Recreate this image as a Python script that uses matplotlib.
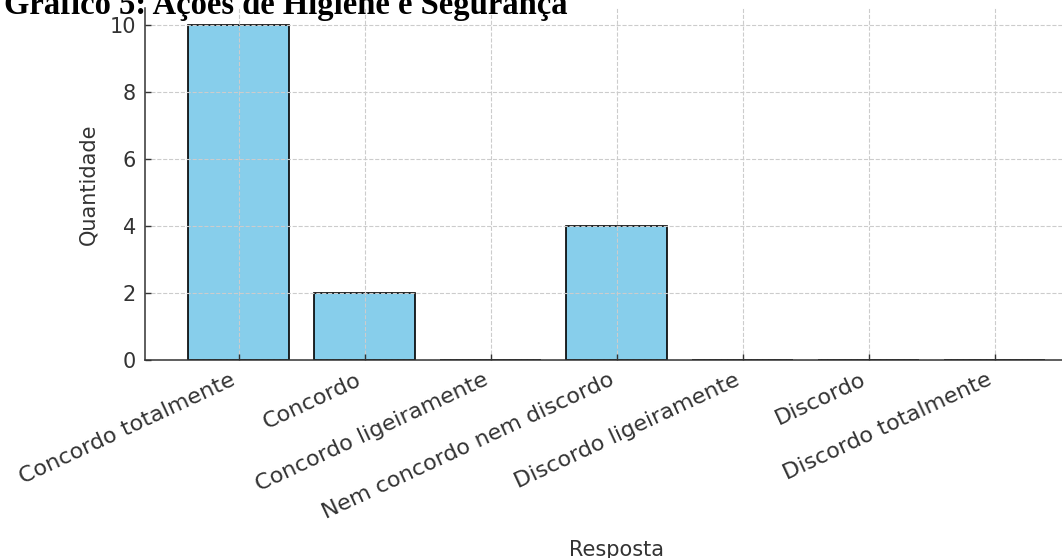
import matplotlib
matplotlib.use("Agg")
import matplotlib.pyplot as plt

# data
categories = ['Concordo totalmente', 'Concordo', 'Concordo ligeiramente',
              'Nem concordo nem discordo', 'Discordo ligeiramente',
              'Discordo', 'Discordo totalmente']
values = [10, 2, 0, 4, 0, 0, 0]

title = 'Gráfico 5: Ações de Higiene e Segurança'
xlabel = 'Resposta'
ylabel = 'Quantidade'

text_color = '#333333'

fig = plt.figure(figsize=(10.62, 5.58), dpi=100)
# axes runs past the right edge, the reference is cropped there
ax = fig.add_axes([0.137, 0.3548, 0.8875, 0.6308])

ax.bar(categories, values, color='skyblue', edgecolor='black', linewidth=1.2)

ax.grid(True, linestyle='--', color='#cccccc', linewidth=0.8)
ax.spines['top'].set_visible(False)
ax.spines['right'].set_visible(False)
for s in ['left', 'bottom']:
    ax.spines[s].set_color('#333333')
    ax.spines[s].set_linewidth(1.1)

ax.tick_params(axis='both', direction='in', length=4, width=1,
               colors=text_color, labelsize=15, pad=7)
ax.tick_params(axis='x', labelsize=16)
plt.setp(ax.get_xticklabels(), rotation=25, ha='right')

ax.set_xlabel(xlabel, fontsize=15, color=text_color, labelpad=12)
ax.set_ylabel(ylabel, fontsize=15, color=text_color, labelpad=8)

# document caption sitting over the top of the chart (cut off at the top)
fig.text(0.004, 1 - 14 / 558, title, fontsize=23.5, fontweight='bold',
         family=['Liberation Serif', 'DejaVu Serif'], color='black',
         ha='left', va='baseline')

fig.savefig('out.png', dpi=100)
